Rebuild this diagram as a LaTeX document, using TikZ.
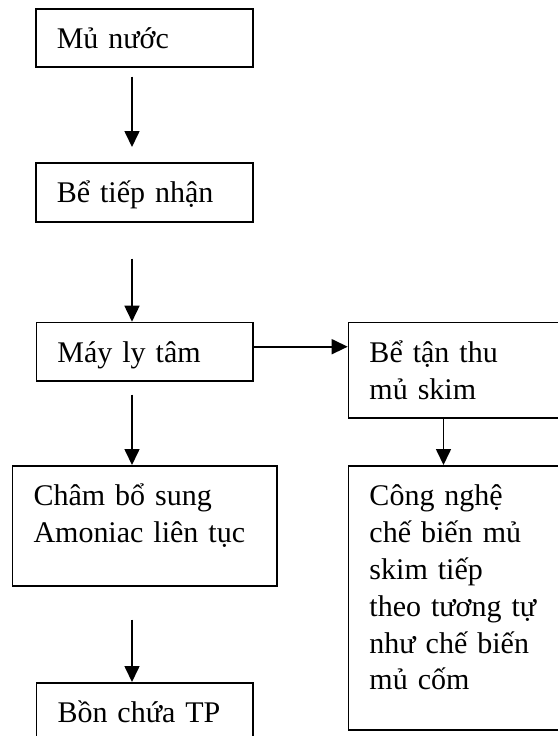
\documentclass[tikz,border=0pt]{standalone}
\usepackage{fontspec}
\setmainfont{Liberation Serif}
\usetikzlibrary{arrows.meta}
\tikzset{
  stage/.style={draw, line width=0.8pt, anchor=north west, inner xsep=10.5pt, inner ysep=0pt,
    align=left, text height=20pt, font=\fontsize{15pt}{18.4pt}\selectfont},
  flow/.style={-{Triangle[length=8pt,width=7.5pt]}, line width=0.8pt}
}
\begin{document}
\begin{tikzpicture}[x=0.5pt, y=-0.5pt]
\clip (0,0) rectangle (558,736);
\coordinate (colL) at (132,0);
\coordinate (colR) at (443.5,0);

\node[stage, text width=87.5pt, text depth=9pt] (mun) at (35,8) {Mủ nước};
\node[stage, text width=87.5pt, text depth=9.5pt] (tiep) at (35,162) {Bể tiếp nhận};
\node[stage, text width=87.2pt, text depth=9.2pt] (lytam) at (35.6,321.7) {Máy ly tâm};
\node[stage, text width=105pt, text depth=27.7pt] (tanthu) at (347.7,321.7) {Bể tận thu\\mủ skim};
\node[stage, text width=111.2pt, text depth=40pt] (cham) at (11.7,465) {Châm bổ sung\\Amoniac liên tục};
\node[stage, text width=87.2pt, text depth=20pt] (bon) at (35.7,682) {Bồn chứa TP};
\node[stage, text width=105pt, text depth=112pt] (congnghe) at (347.7,465) {Công nghệ\\chế biến mủ\\skim tiếp\\theo tương tự\\như chế biến\\mủ cốm};

\draw[flow] ([yshift=-4.5pt]mun.south -| colL) -- ([yshift=7.5pt]tiep.north -| colL);
\draw[flow] ([yshift=-18pt]tiep.south -| colL) -- (lytam.north -| colL);
\draw[flow] ([yshift=-6.5pt]lytam.south -| colL) -- (cham.north -| colL);
\draw[flow] ([yshift=-16.5pt]cham.south -| colL) -- (bon.north -| colL);
\draw[flow] ([yshift=2.5pt]lytam.east) -- ([yshift=2.5pt]lytam.east -| tanthu.west);
\draw[flow] (tanthu.south -| colR) -- (congnghe.north -| colR);
\end{tikzpicture}
\end{document}
